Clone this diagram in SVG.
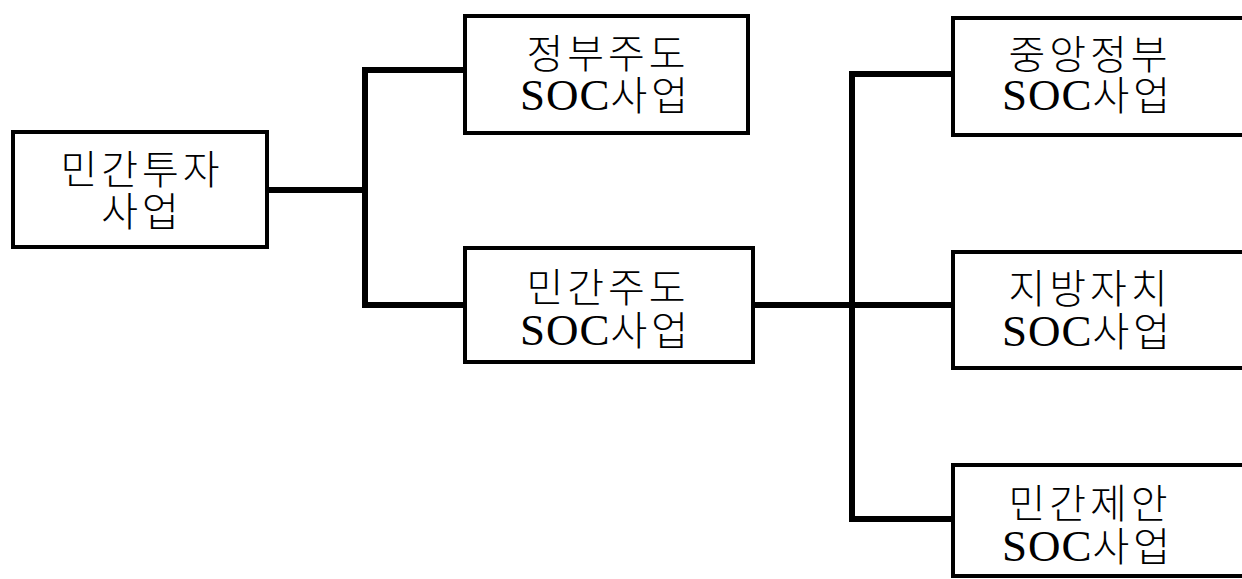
<svg xmlns="http://www.w3.org/2000/svg" width="1242" height="579" viewBox="0 0 1242 579">
<style>
.box{fill:#fff;stroke:#000;stroke-width:4}
.t{font-family:"Liberation Serif","Noto Sans CJK KR",serif;font-size:45px;fill:#000;text-anchor:middle;letter-spacing:1px}
.k{font-family:"Noto Sans CJK KR","Liberation Serif",sans-serif;font-size:40px;font-weight:300;letter-spacing:4px}
.c{fill:none;stroke:#000;stroke-width:6;stroke-linejoin:miter;stroke-linecap:square}
</style>
<rect width="1242" height="579" fill="#fff"/>
<g id="connectors">
<path class="c" d="M267 190 H365 M365 70 V305 M365 70 H465 M365 305 H465"/>
<path class="c" d="M753 305 H953 M852 74 V519 M852 74 H953 M852 519 H953"/>
</g>
<g id="n1">
<rect class="box" x="13" y="132" width="254" height="115"/>
<text class="t k" x="142" y="184">민간투자</text>
<text class="t k" x="142" y="226">사업</text>
</g>
<g id="n2">
<rect class="box" x="465" y="16" width="283" height="117"/>
<text class="t k" x="608" y="68">정부주도</text>
<text class="t" x="606" y="110">SOC<tspan class="k">사업</tspan></text>
</g>
<g id="n3">
<rect class="box" x="465" y="248" width="288" height="114"/>
<text class="t k" x="608" y="302">민간주도</text>
<text class="t" x="606" y="345">SOC<tspan class="k">사업</tspan></text>
</g>
<g id="n4">
<rect class="box" x="953" y="18" width="320" height="117"/>
<text class="t k" x="1090" y="69">중앙정부</text>
<text class="t" x="1088" y="110">SOC<tspan class="k">사업</tspan></text>
</g>
<g id="n5">
<rect class="box" x="953" y="252" width="320" height="116"/>
<text class="t k" x="1090" y="303">지방자치</text>
<text class="t" x="1088" y="346">SOC<tspan class="k">사업</tspan></text>
</g>
<g id="n6">
<rect class="box" x="953" y="465" width="320" height="111"/>
<text class="t k" x="1090" y="518">민간제안</text>
<text class="t" x="1088" y="561">SOC<tspan class="k">사업</tspan></text>
</g>
</svg>
